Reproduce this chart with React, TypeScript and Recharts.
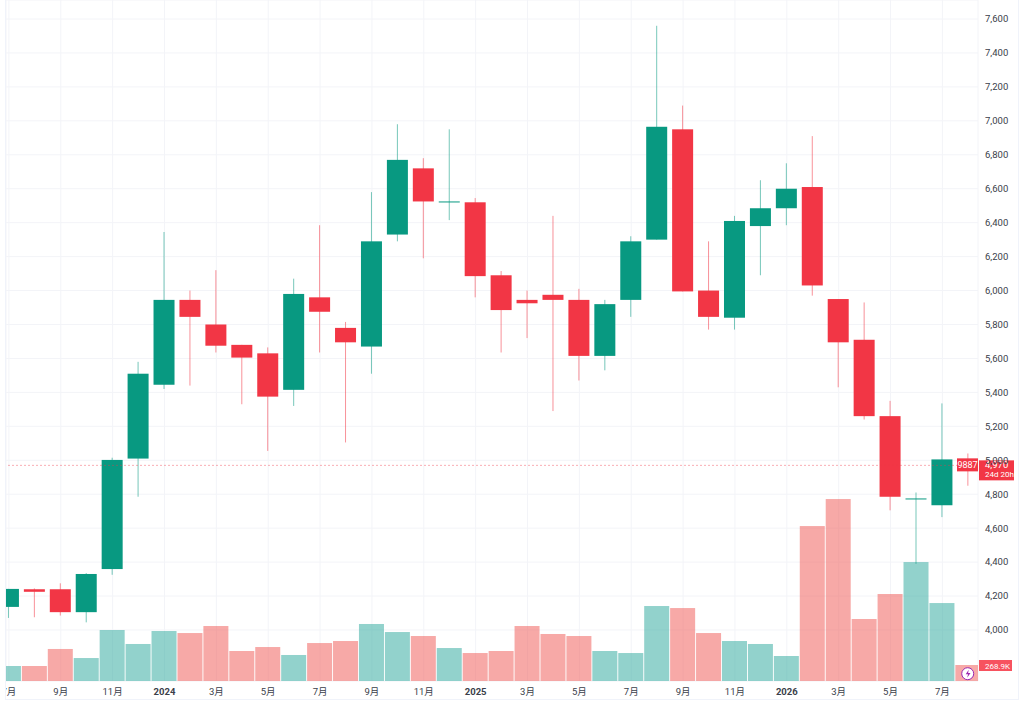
import { Bar, CartesianGrid, ComposedChart, ReferenceLine, XAxis, YAxis } from 'recharts'

// monthly candles, 2023-07 to 2026-08
const opens = [4136, 4240, 4240, 4105, 4359, 5010, 5445, 5945, 5800, 5680, 5630, 5415, 5960, 5780, 5670, 6330, 6720, 6520, 6520, 6090, 5945, 5975, 5945, 5615, 5945, 6300, 6950, 6000, 5840, 6380, 6485, 6610, 5950, 5710, 5260, 4770, 4735, 5005]
const closes = [4242, 4225, 4105, 4330, 5002, 5510, 5945, 5845, 5675, 5605, 5375, 5980, 5875, 5695, 6290, 6770, 6525, 6525, 6085, 5885, 5925, 5945, 5615, 5920, 6290, 6965, 5995, 5845, 6410, 6485, 6600, 6030, 5695, 5260, 4785, 4775, 5005, 4970]
const highs = [4242, 4245, 4275, 4335, 5015, 5580, 6345, 6000, 6120, 5680, 5665, 6070, 6385, 5815, 6580, 6980, 6780, 6950, 6545, 6115, 6000, 6440, 6010, 5945, 6320, 7560, 7090, 6290, 6440, 6650, 6750, 6910, 5950, 5930, 5350, 4810, 5335, 5040]
const lows = [4071, 4075, 4085, 4045, 4325, 4785, 5420, 5440, 5635, 5330, 5055, 5320, 5635, 5105, 5510, 6290, 6190, 6415, 5960, 5635, 5720, 5290, 5470, 5530, 5845, 6300, 5995, 5770, 5770, 6090, 6385, 5970, 5430, 5240, 4705, 4390, 4665, 4850]
const volumes = [252, 252, 538, 386, 857, 622, 840, 806, 924, 504, 571, 437, 638, 672, 958, 823, 756, 554, 470, 504, 924, 790, 756, 504, 470, 1260, 1226, 806, 672, 622, 420, 2604, 3058, 1042, 1462, 1999, 1310, 268.9]

const tickIdx = [0, 2, 4, 6, 8, 10, 12, 14, 16, 18, 20, 22, 24, 26, 28, 30, 32, 34, 36]
const tickLabels = ['7月', '9月', '11月', '2024', '3月', '5月', '7月', '9月', '11月', '2025', '3月', '5月', '7月', '9月', '11月', '2026', '3月', '5月', '7月']
const priceTicks = [4000, 4200, 4400, 4600, 4800, 5000, 5200, 5400, 5600, 5800, 6000, 6200, 6400, 6600, 6800, 7000, 7200, 7400, 7600]

const lastPrice = 4970
const lastVolume = 268.9
const lastVolumeText = '268.9K'
const countdown = '24d 20h'
const sideValue = '9887'

const UP = '#089981'
const DOWN = '#f23645'
const FONT = 'Roboto, "Noto Sans CJK SC", sans-serif'
const X_DOMAIN = [-0.112, 37.373]

const data = opens.map((open, i) => ({
  idx: i,
  open,
  close: closes[i],
  high: highs[i],
  low: lows[i],
  range: [lows[i], highs[i]],
  volume: volumes[i],
}))

function Candle(props: any) {
  const { x, y, width, height, payload } = props
  const { open, close, high, low } = payload
  const perUnit = height / (high - low)
  const top = y + (high - Math.max(open, close)) * perUnit
  const bodyH = Math.max(Math.abs(open - close) * perUnit, 1)
  const color = close >= open ? UP : DOWN
  const mid = x + width / 2
  return (
    <g>
      <line x1={mid} x2={mid} y1={y} y2={y + height} stroke={color} strokeOpacity={0.55} />
      <rect x={x} y={top} width={width} height={bodyH} fill={color} />
    </g>
  )
}

function VolumeBar(props: any) {
  const { x, y, width, height, payload } = props
  return (
    <rect
      x={x}
      y={y}
      width={width}
      height={height}
      fill={payload.close >= payload.open ? '#26a69a' : '#ef5350'}
      fillOpacity={0.5}
    />
  )
}

function TimeTick(props: any) {
  const { x, y, index } = props
  const label = tickLabels[index]
  return (
    <text
      x={x}
      y={y + 6}
      textAnchor="middle"
      fontSize={9.5}
      fontFamily={FONT}
      fontWeight={label.length === 4 ? 700 : 400}
      fill="#3a3e4a"
    >
      {label}
    </text>
  )
}

function PriceTag({ viewBox }: any) {
  const right = viewBox.x + viewBox.width
  const y = viewBox.y
  return (
    <g fontFamily={FONT} fill="#fff">
      <rect x={right - 21} y={y - 7} width={21} height={13} fill={DOWN} />
      <text x={right - 10.5} y={y + 3} textAnchor="middle" fontSize={9}>{sideValue}</text>
      <rect x={right + 1} y={y - 5} width={35} height={20} fill={DOWN} />
      <text x={right + 7} y={y + 3} fontSize={9.5}>{lastPrice.toLocaleString('en-US')}</text>
      <text x={right + 7} y={y + 12} fontSize={8}>{countdown}</text>
    </g>
  )
}

function VolumeTag({ viewBox }: any) {
  const right = viewBox.x + viewBox.width
  const y = viewBox.y
  return (
    <g fontFamily={FONT}>
      <rect x={right + 1} y={y - 5} width={33} height={11} fill="#f7525f" />
      <text x={right + 7} y={y + 4} fill="#fff" fontSize={8}>{lastVolumeText}</text>
      <circle cx={right - 10.3} cy={y + 8.7} r={6} fill="#fff" stroke="#9c27b0" strokeWidth={1} />
      <path
        d={`M${right - 9.3} ${y + 4.7} l-3 4.5 h2.4 l-1 3.5 l3.4 -4.8 h-2.4 z`}
        fill="#9c27b0"
      />
    </g>
  )
}

export default function App() {
  return (
    <div
      style={{
        position: 'absolute',
        left: 6,
        top: 0,
        width: 1012,
        height: 699,
        borderRight: '1px solid #f0f3fa',
        borderBottom: '1px solid #f0f3fa',
        borderLeft: '1px solid #f0f3fa',
        marginLeft: -1,
        background: '#fff',
      }}
    >
      <ComposedChart
        width={1012}
        height={698}
        data={data}
        margin={{ top: 0, right: 0, bottom: 0, left: 0 }}
      >
        <CartesianGrid stroke="#f3f4f8" xAxisId="candles" yAxisId="price" />
        <XAxis
          xAxisId="candles"
          type="number"
          dataKey="idx"
          domain={X_DOMAIN}
          allowDataOverflow
          ticks={tickIdx}
          interval={0}
          height={17}
          axisLine={false}
          tickLine={false}
          tick={<TimeTick />}
        />
        <XAxis
          xAxisId="volumes"
          type="number"
          dataKey="idx"
          domain={X_DOMAIN}
          allowDataOverflow
          hide
        />
        <YAxis
          yAxisId="price"
          orientation="right"
          width={40}
          domain={[3699.4, 7712]}
          ticks={priceTicks}
          interval={0}
          axisLine={false}
          tickLine={false}
          tickMargin={1}
          tick={{ fontSize: 9.5, fill: '#3a3e4a', fontFamily: FONT }}
          tickFormatter={(v: number) => v.toLocaleString('en-US')}
        />
        <YAxis yAxisId="vol" hide domain={[0, 11445]} />
        <Bar
          xAxisId="volumes"
          yAxisId="vol"
          dataKey="volume"
          barSize={25}
          shape={<VolumeBar />}
          isAnimationActive={false}
        />
        <ReferenceLine
          xAxisId="candles"
          yAxisId="price"
          y={lastPrice}
          stroke={DOWN}
          strokeOpacity={0.4}
          strokeDasharray="2 2"
        />
        <Bar
          xAxisId="candles"
          yAxisId="price"
          dataKey="range"
          barSize={21}
          shape={<Candle />}
          isAnimationActive={false}
        />
        <ReferenceLine xAxisId="candles" yAxisId="price" y={lastPrice} stroke="none" label={<PriceTag />} />
        <ReferenceLine xAxisId="candles" yAxisId="vol" y={lastVolume} stroke="none" label={<VolumeTag />} />
      </ComposedChart>
    </div>
  )
}
